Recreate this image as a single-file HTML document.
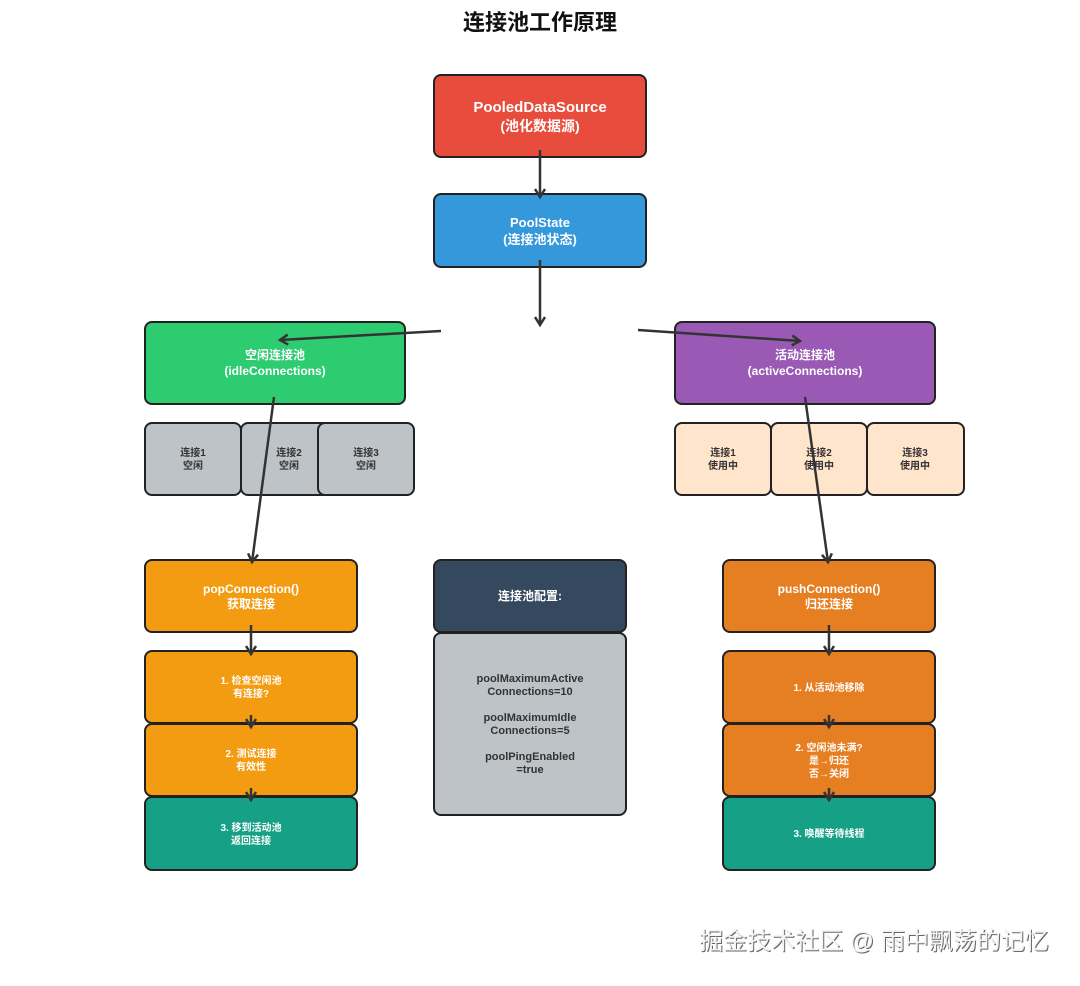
<!DOCTYPE html>
<html><head><meta charset="utf-8"><style>
body{margin:0;background:#fff;}
svg text{font-family:"Liberation Sans","Noto Sans CJK SC",sans-serif;font-weight:bold;text-anchor:middle;}
</style></head><body>
<svg width="1080" height="981" viewBox="0 0 1080 981" xmlns="http://www.w3.org/2000/svg">
<defs>
<marker id="a" markerWidth="12" markerHeight="12" refX="9" refY="6" orient="auto" markerUnits="userSpaceOnUse">
<path d="M1,1 L9,6 L1,11" fill="none" stroke="#333" stroke-width="2.5"/></marker>
</defs>
<text x="540" y="30" font-size="22" fill="#111">连接池工作原理</text>
<g stroke="#222" stroke-width="2">
<rect x="434" y="75" width="212" height="82" rx="7" fill="#e74c3c"/>
<rect x="434" y="194" width="212" height="73" rx="7" fill="#3498db"/>
<rect x="145" y="322" width="260" height="82" rx="7" fill="#2ecc71"/>
<rect x="675" y="322" width="260" height="82" rx="7" fill="#9b59b6"/>
<rect x="145" y="423" width="96" height="72" rx="7" fill="#bdc3c7"/>
<rect x="241" y="423" width="96" height="72" rx="7" fill="#bdc3c7"/>
<rect x="318" y="423" width="96" height="72" rx="7" fill="#bdc3c7"/>
<rect x="675" y="423" width="96" height="72" rx="7" fill="#ffe5cc"/>
<rect x="771" y="423" width="96" height="72" rx="7" fill="#ffe5cc"/>
<rect x="867" y="423" width="97" height="72" rx="7" fill="#ffe5cc"/>
<rect x="145" y="560" width="212" height="72" rx="7" fill="#f39c12"/>
<rect x="145" y="651" width="212" height="72" rx="7" fill="#f39c12"/>
<rect x="145" y="724" width="212" height="72" rx="7" fill="#f39c12"/>
<rect x="145" y="797" width="212" height="73" rx="7" fill="#16a085"/>
<rect x="434" y="560" width="192" height="72" rx="7" fill="#34495e"/>
<rect x="434" y="633" width="192" height="182" rx="7" fill="#bdc3c7"/>
<rect x="723" y="560" width="212" height="72" rx="7" fill="#e67e22"/>
<rect x="723" y="651" width="212" height="72" rx="7" fill="#e67e22"/>
<rect x="723" y="724" width="212" height="72" rx="7" fill="#e67e22"/>
<rect x="723" y="797" width="212" height="73" rx="7" fill="#16a085"/>
</g>
<g stroke="#333" stroke-width="2.5" fill="none" marker-end="url(#a)">
<line x1="540" y1="150" x2="540" y2="197"/>
<line x1="540" y1="260" x2="540" y2="325"/>
<line x1="441" y1="331" x2="280" y2="340"/>
<line x1="638" y1="330" x2="800" y2="341"/>
<line x1="274" y1="397" x2="252" y2="562"/>
<line x1="805" y1="397" x2="828" y2="562"/>
<line x1="251" y1="625" x2="251" y2="654"/>
<line x1="251" y1="715" x2="251" y2="727"/>
<line x1="251" y1="788" x2="251" y2="800"/>
<line x1="829" y1="625" x2="829" y2="654"/>
<line x1="829" y1="715" x2="829" y2="727"/>
<line x1="829" y1="788" x2="829" y2="800"/>
</g>
<g fill="#fff">
<text x="540" y="112" font-size="15">PooledDataSource</text>
<text x="540" y="131" font-size="14">(池化数据源)</text>
<text x="540" y="227" font-size="13">PoolState</text>
<text x="540" y="244" font-size="13">(连接池状态)</text>
<text x="275" y="359" font-size="12">空闲连接池</text>
<text x="275" y="375" font-size="12">(idleConnections)</text>
<text x="805" y="359" font-size="12">活动连接池</text>
<text x="805" y="375" font-size="12">(activeConnections)</text>
<text x="251" y="593" font-size="12">popConnection()</text>
<text x="251" y="608" font-size="12">获取连接</text>
<text x="251" y="684" font-size="10">1. 检查空闲池</text>
<text x="251" y="697" font-size="10">有连接?</text>
<text x="251" y="757" font-size="10">2. 测试连接</text>
<text x="251" y="770" font-size="10">有效性</text>
<text x="251" y="831" font-size="10">3. 移到活动池</text>
<text x="251" y="844" font-size="10">返回连接</text>
<text x="530" y="600" font-size="12">连接池配置:</text>
<text x="829" y="593" font-size="12">pushConnection()</text>
<text x="829" y="608" font-size="12">归还连接</text>
<text x="829" y="691" font-size="10">1. 从活动池移除</text>
<text x="829" y="751" font-size="10">2. 空闲池未满?</text>
<text x="829" y="764" font-size="10">是→归还</text>
<text x="829" y="777" font-size="10">否→关闭</text>
<text x="829" y="837" font-size="10">3. 唤醒等待线程</text>
</g>
<g fill="#333" font-size="10">
<text x="193" y="456">连接1</text><text x="193" y="469">空闲</text>
<text x="289" y="456">连接2</text><text x="289" y="469">空闲</text>
<text x="366" y="456">连接3</text><text x="366" y="469">空闲</text>
<text x="723" y="456">连接1</text><text x="723" y="469">使用中</text>
<text x="819" y="456">连接2</text><text x="819" y="469">使用中</text>
<text x="915" y="456">连接3</text><text x="915" y="469">使用中</text>
<g font-size="11">
<text x="530" y="682">poolMaximumActive</text>
<text x="530" y="695">Connections=10</text>
<text x="530" y="721">poolMaximumIdle</text>
<text x="530" y="734">Connections=5</text>
<text x="530" y="760">poolPingEnabled</text>
<text x="530" y="773">=true</text>
</g>
</g>
<text x="875" y="950" font-size="24" fill="#666" style="font-weight:normal">掘金技术社区 @ 雨中飘荡的记忆</text>
<text x="874" y="949" font-size="24" fill="#f4f4f4" style="font-weight:normal">掘金技术社区 @ 雨中飘荡的记忆</text>
</svg>
</body></html>
